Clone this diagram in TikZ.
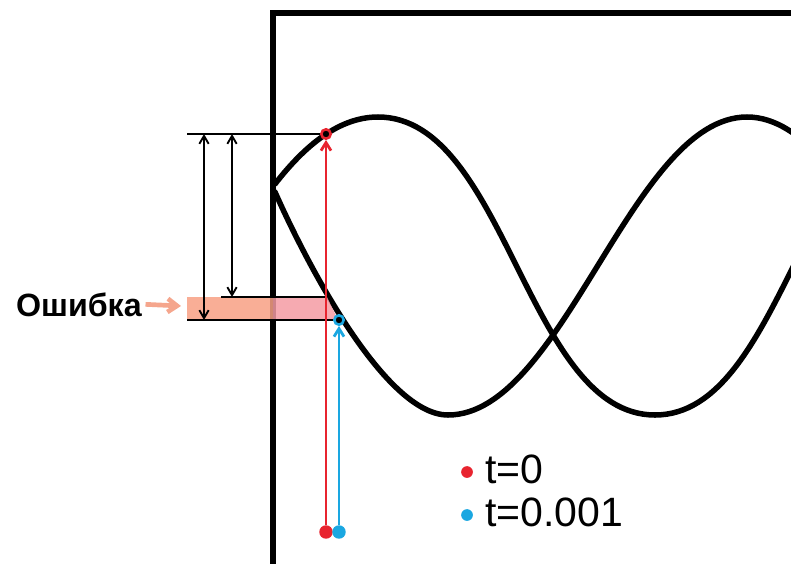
\documentclass[tikz,border=0pt]{standalone}
\usepackage{fontspec}
\setmainfont{Liberation Sans}
\usetikzlibrary{arrows.meta}
\definecolor{tzero}{HTML}{E8242F}
\definecolor{tnext}{HTML}{1AA7E1}
\definecolor{errleft}{HTML}{F8A084}
\definecolor{errright}{HTML}{F49BA3}
\definecolor{errarrow}{HTML}{F5A68D}

\begin{document}
\begin{tikzpicture}[x=0.03cm, y=-0.03cm,
  wave/.style={line width=4.7pt, line cap=round},
  frameline/.style={line width=4.5pt},
  level/.style={line width=1.8pt},
  dimarrow/.style={line width=1.6pt, {Straight Barb[length=2.4mm,width=2.8mm]}-{Straight Barb[length=2.4mm,width=2.8mm]}},
  ray/.style={line width=2.4pt, -{Straight Barb[length=2.4mm,width=3mm]}},
  ring/.style={circle, draw=#1, fill=black, line width=2.2pt, minimum size=8pt, inner sep=0pt},
  dot/.style={circle, fill=#1, minimum size=11.5pt, inner sep=0pt},
  legend/.style={anchor=base west, inner sep=0pt, font=\fontsize{35}{40}\selectfont}]
\useasboundingbox (0,0) rectangle (791,563);
\clip (0,0) rectangle (791,563);
% the two waves
\draw[wave] (275,184) .. controls (300,152) and (335,117) .. (378,117)
  .. controls (506,117) and (527,415) .. (655,415)
  .. controls (783,415) and (804,117) .. (932,117);
\draw[wave] (275,192) .. controls (306,262) and (385,415) .. (448,415)
  .. controls (563,415) and (632,117) .. (747,117)
  .. controls (862,117) and (931,415) .. (1046,415);
% frame
\draw[frameline] (273,600) -- (273,13) -- (830,13);
% error band
\fill[errleft, fill opacity=0.85] (187,297) rectangle (273,320);
\fill[errright, fill opacity=0.85] (273,297) -- (327,297) -- (338,320) -- (273,320) -- cycle;
% points and levels
\node[ring=tzero] (hit0) at (326,134) {};
\node[ring=tnext] (hit1) at (339,320) {};
\node[dot=tzero] (src0) at (326,532) {};
\node[dot=tnext] (src1) at (339,532) {};
\coordinate (lev0) at (187,134);
\coordinate (lev1) at (187,320);
\coordinate (levmid) at (221,297);
\coordinate (levmidend) at (327,297);
\draw[level] (lev0) -- (hit0);
\draw[level] (lev1) -- (hit1);
\draw[level] (levmid) -- (levmidend);
\coordinate (outtop) at (204,134); \coordinate (outbot) at (204,320);
\coordinate (intop) at (232,134); \coordinate (inbot) at (232,297);
\draw[dimarrow] (outtop) -- (outbot);
\draw[dimarrow] (intop) -- (inbot);
\draw[ray, tzero] (src0) -- (hit0);
\draw[ray, tnext] (src1) -- (hit1);
% label
\node[anchor=base east, inner sep=0pt, font=\bfseries\fontsize{27.5}{32}\selectfont] (errlabel) at (142,316) {Ошибка};
\coordinate (errtip) at (181,306);
\draw[line width=4pt, errarrow, -{Straight Barb[length=2.8mm,width=4mm]}] ([xshift=3pt]errlabel.east) -- (errtip);
% legend
\node[dot=tzero, minimum size=10pt] (key0) at (467,472) {};
\node[legend] (lab0) at (485,483) {t=0};
\node[dot=tnext, minimum size=10pt] (key1) at (467,515) {};
\node[legend] (lab1) at (485,526) {t=0.001};
\end{tikzpicture}
\end{document}
